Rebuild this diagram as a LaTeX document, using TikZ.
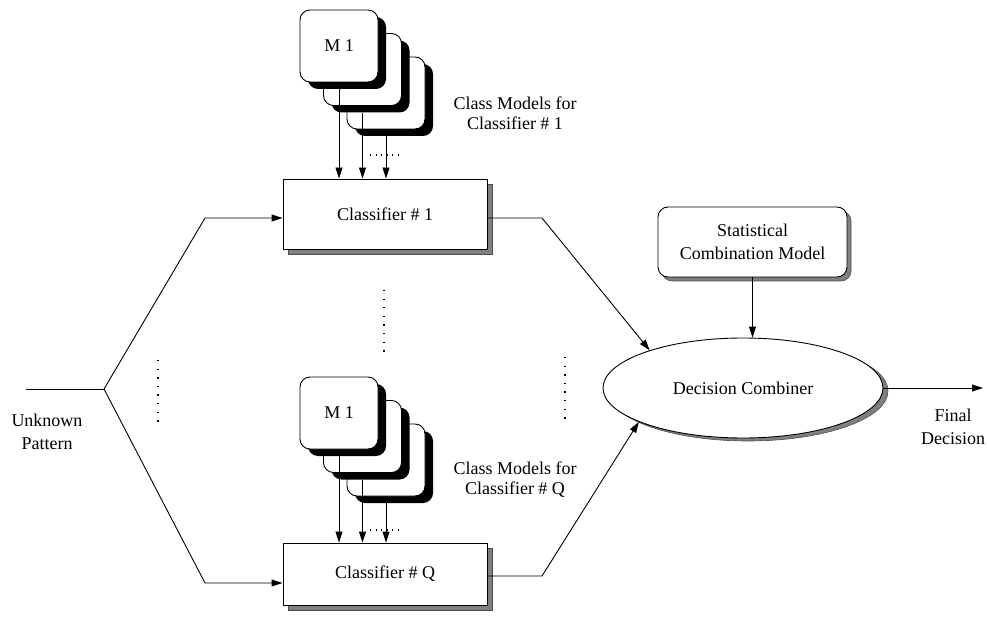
\documentclass[tikz,border=0pt]{standalone}
\usepackage{fontspec}
\setmainfont{Liberation Serif}
\usetikzlibrary{arrows.meta,shadows,shapes.geometric}
\begin{document}
\begin{tikzpicture}[x=1pt,y=-1pt,line width=0.9pt,
  font=\fontsize{18}{23}\selectfont,
  modelbox/.style={draw,fill=white,rounded corners=10pt,minimum width=78pt,minimum height=72pt,inner sep=0pt,
    drop shadow={shadow xshift=8pt,shadow yshift=-7pt,fill=black,opacity=1}},
  clsbox/.style={draw,fill=white,minimum width=204pt,inner sep=0pt,
    drop shadow={shadow xshift=5pt,shadow yshift=-5pt,fill=black!50,draw=black!70,line width=0.6pt,opacity=1}},
  statbox/.style={draw,fill=white,rounded corners=10pt,minimum width=189pt,minimum height=70pt,inner sep=0pt,align=center,
    drop shadow={shadow xshift=4pt,shadow yshift=-4pt,fill=black!50,draw=black!70,line width=0.6pt,opacity=1}},
  combnode/.style={draw,fill=white,ellipse,minimum width=280pt,minimum height=100pt,inner sep=0pt,
    drop shadow={shadow xshift=5pt,shadow yshift=-3pt,fill=black!50,draw=black!70,line width=0.6pt,opacity=1}},
  lbl/.style={align=center,inner sep=0pt},
  cmlbl/.style={align=center,inner sep=0pt,font=\fontsize{18}{20}\selectfont},
  arr/.style={-{Triangle[length=11pt,width=7pt]}},
  vdots/.style={line width=1.3pt,dash pattern=on 1.3pt off 7.3pt},
  hdots/.style={line width=1.1pt,dash pattern=on 1.1pt off 4.4pt}]
\useasboundingbox (0,0) rectangle (987,617);

% top model stack
\node[modelbox] (m3a) at (386,93) {};
\node[modelbox] (m2a) at (362.5,69.5) {};
\node[modelbox] (m1a) at (339,46) {M 1};
% bottom model stack
\node[modelbox] (m3b) at (386,460) {};
\node[modelbox] (m2b) at (362.5,436.5) {};
\node[modelbox] (m1b) at (339,413) {M 1};

% classifiers
\node[clsbox,minimum height=70pt] (cls1) at (385,214) {Classifier \# 1};
\node[clsbox,minimum height=62pt] (clsQ) at (385,574) {Classifier \# Q};

% statistical model and combiner
\node[statbox] (stat) at (752.5,242) {Statistical\\Combination Model};
\node[combnode] (comb) at (743,388) {Decision Combiner};

% labels
\node[cmlbl] (lab1) at (515,113) {Class Models for\\Classifier \# 1};
\node[cmlbl] (labQ) at (515,480) {Class Models for\\Classifier \# Q};
\node[lbl] (unk) at (47,432) {Unknown\\Pattern};
\node[lbl] (fd) at (953,427) {Final\\Decision};

% coordinates
\coordinate (in) at (26,389);
\coordinate (fork) at (104,389);
\coordinate (b1) at (205,218);
\coordinate (bQ) at (205,583);
\coordinate (k1) at (542,218);
\coordinate (kQ) at (542,576);
\coordinate (fin) at (983,388);

% model arrows
\foreach \m/\c in {m1a/cls1,m2a/cls1,m3a/cls1,m1b/clsQ,m2b/clsQ,m3b/clsQ}
  \draw[arr] ([yshift=-7pt]\m.south) -- (\m.south |- \c.north);

% input
\draw (in) -- (fork);
\draw[arr] (fork) -- (b1) -- (b1 -| cls1.west);
\draw[arr] (fork) -- (bQ) -- (bQ -| clsQ.west);

% outputs
\draw[arr] (k1 -| cls1.east) -- (k1) -- (comb.158);
\draw[arr] (kQ -| clsQ.east) -- (kQ) -- (comb.198);
\draw[arr] (stat.south) -- (stat.south |- comb.north);
\draw[arr] (comb.east) -- (fin);

% dots
\draw[vdots] (158,360) -- (158,424);
\draw[vdots] (384,290) -- (384,354);
\draw[vdots] (565,357) -- (565,421);
\draw[hdots] (370,155) -- (399,155);
\draw[hdots] (370,530) -- (399,530);
\end{tikzpicture}
\end{document}
